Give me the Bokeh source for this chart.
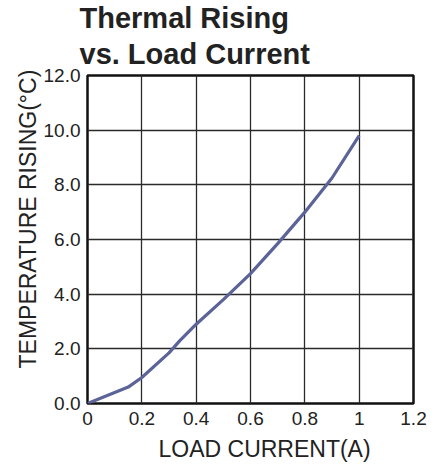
from bokeh.plotting import figure
from bokeh.models import Range1d, FixedTicker, Title
from bokeh.embed import file_html
from bokeh.resources import INLINE

# data
load_current = [0.0, 0.15, 0.2, 0.3, 0.34, 0.4, 0.5, 0.6, 0.7, 0.8, 0.9, 1.0]
temp_rising = [0.0, 0.6, 0.95, 1.85, 2.3, 2.9, 3.8, 4.75, 5.85, 7.0, 8.25, 9.8]
x_ticks = [0, 0.2, 0.4, 0.6, 0.8, 1.0, 1.2]
x_tick_labels = ["0", "0.2", "0.4", "0.6", "0.8", "1", "1.2"]
y_ticks = [0, 2, 4, 6, 8, 10, 12]
y_tick_labels = ["0.0", "2.0", "4.0", "6.0", "8.0", "10.0", "12.0"]
title_lines = ["Thermal Rising", "vs. Load Current"]
x_label = "LOAD CURRENT(A)"
y_label = "TEMPERATURE RISING(°C)"

FONT = "Liberation Sans"
TXT = "#222222"

p = figure(frame_width=326, frame_height=328, output_backend="svg", toolbar_location=None,
           x_range=Range1d(0, 1.2), y_range=Range1d(0, 12),
           min_border_left=87, min_border_right=20, min_border_top=75, min_border_bottom=63,
           title=title_lines[0])
p.title.text_font = FONT
p.title.text_font_size = "29px"
p.title.text_font_style = "bold"
p.title.text_color = TXT
p.title.align = "left"
p.title.offset = -8
p.title.standoff = -8
t2 = Title(text=title_lines[1], text_font=FONT, text_font_size="29px", text_font_style="bold",
           text_color=TXT, align="left", offset=-8, standoff=12)
p.add_layout(t2, "above")

p.background_fill_color = "white"
p.border_fill_color = "white"
p.outline_line_color = "#111111"
p.outline_line_width = 2.5

for ax, ticks, labels in ((p.xaxis[0], x_ticks, x_tick_labels), (p.yaxis[0], y_ticks, y_tick_labels)):
    ax.ticker = FixedTicker(ticks=ticks)
    ax.major_label_overrides = {t: l for t, l in zip(ticks, labels)}
    ax.axis_line_color = None
    ax.major_tick_line_color = None
    ax.minor_tick_line_color = None
    ax.major_tick_out = 0
    ax.major_tick_in = 0
    ax.minor_tick_out = 0
    ax.minor_tick_in = 0
    ax.major_label_text_font = FONT
    ax.major_label_text_font_size = "19px"
    ax.major_label_text_color = TXT
p.yaxis[0].major_label_standoff = 7
p.xaxis[0].major_label_standoff = 8

p.xgrid.ticker = FixedTicker(ticks=x_ticks)
p.ygrid.ticker = FixedTicker(ticks=y_ticks)
for g in (p.xgrid[0], p.ygrid[0]):
    g.grid_line_color = "#2a2a2a"
    g.grid_line_width = 1.3

p.line(load_current, temp_rising, line_color="#5b6399", line_width=3.2)

xl = Title(text=x_label, text_font=FONT, text_font_size="23px", text_font_style="normal",
           text_color=TXT, align="left", offset=71, standoff=12)
p.add_layout(xl, "below")
yl = Title(text=y_label, text_font=FONT, text_font_size="23px", text_font_style="normal",
           text_color=TXT, align="left", offset=35, standoff=0)
p.add_layout(yl, "left")

open("out.html", "w").write(file_html(p, INLINE))
